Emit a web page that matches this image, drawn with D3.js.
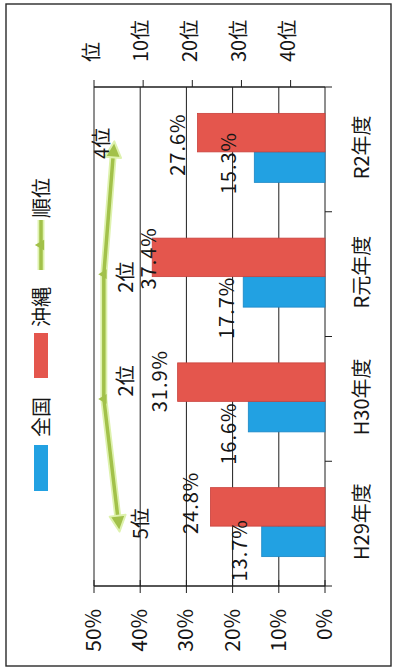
<!DOCTYPE html>
<html><head><meta charset="utf-8">
<script src="https://cdn.jsdelivr.net/npm/d3@7"></script>
<style>
html,body{margin:0;padding:0;background:#fff;}
svg{display:block;}
text{font-family:"Noto Sans CJK JP","Noto Sans",sans-serif;fill:#161616;}
</style></head><body>
<svg id="chart" width="393" height="669"></svg>
<script>
// Data: share by fiscal year (%), with Okinawa's national rank
const categories = ["H29年度", "H30年度", "R元年度", "R2年度"];
const seriesNames = ["全国", "沖縄"];
const national = [13.7, 16.6, 17.7, 15.3];
const okinawa = [24.8, 31.9, 37.4, 27.6];
const rankName = "順位";
const rank = [5, 2, 2, 4];
const valueTicks = [0, 10, 20, 30, 40, 50];
const rankTicks = [0, 10, 20, 30, 40];
const rankMax = 47;

// Styling / layout (chart is laid out landscape, then turned on its side)
const colors = { national: "#22a1e2", okinawa: "#e4564d", rank: "#a2c14a", rankGlow: "#def2ae" };
const barW = { national: 30.5, okinawa: 38.5 };
const nudgeNational = [[-9, -2], [-17, 0], [-16, 3], [4, -6]];
const nudgeOkinawa = [[4, 0], [1, 2], [-1, 16], [-12, 0]];
const nudgeRank = [[0, 0], [18, 0], [-3, 0], [6, -34]];

const W = 669, H = 393;
const M = { left: 83, right: 582, top: 94, bottom: 325 };

const svg = d3.select("#chart");
const g = svg.append("g").attr("transform", `translate(0,${W}) rotate(-90)`);

// frame
g.append("rect").attr("x", 3).attr("y", 6).attr("width", 662).attr("height", 385)
  .attr("fill", "none").attr("stroke", "#2a2a2a").attr("stroke-width", 1.4);

const x = d3.scaleBand().domain(categories).range([M.left, M.right]);
const y = d3.scaleLinear().domain([0, 50]).range([M.bottom, M.top]);
const yr = d3.scaleLinear().domain([0, rankMax]).range([M.top, M.bottom]);
const bw = x.bandwidth();

// gridlines
g.append("g").selectAll("line").data(valueTicks).join("line")
  .attr("x1", M.left).attr("x2", M.right)
  .attr("y1", d => y(d)).attr("y2", d => y(d))
  .attr("stroke", "#1e1e1e").attr("stroke-width", 1);

// left value axis
const ya = g.append("g");
ya.append("line").attr("x1", M.left).attr("x2", M.left).attr("y1", M.top).attr("y2", M.bottom)
  .attr("stroke", "#1e1e1e").attr("stroke-width", 1.3);
ya.selectAll("line.t").data(valueTicks).join("line").attr("class", "t")
  .attr("x1", M.left - 7).attr("x2", M.left + 6)
  .attr("y1", d => y(d)).attr("y2", d => y(d)).attr("stroke", "#1e1e1e");
ya.selectAll("text").data(valueTicks).join("text")
  .attr("x", 60).attr("y", d => y(d) - 2).attr("text-anchor", "end")
  .attr("dominant-baseline", "central").attr("font-size", 21)
  .text(d => d + "%");

// right rank axis (reversed)
const ra = g.append("g");
ra.append("line").attr("x1", M.right).attr("x2", M.right).attr("y1", M.top).attr("y2", M.bottom)
  .attr("stroke", "#1e1e1e").attr("stroke-width", 1.3);
ra.selectAll("line.t").data(rankTicks).join("line").attr("class", "t")
  .attr("x1", M.right).attr("x2", M.right + 7)
  .attr("y1", d => yr(d)).attr("y2", d => yr(d)).attr("stroke", "#1e1e1e");
ra.selectAll("text").data(rankTicks).join("text")
  .attr("x", 607).attr("y", d => yr(d) - 4).attr("text-anchor", "start")
  .attr("dominant-baseline", "central").attr("font-size", 20)
  .text(d => (d === 0 ? "" : d) + "位");

// category ticks and labels
g.append("g").selectAll("line").data(d3.range(categories.length + 1)).join("line")
  .attr("x1", i => M.left + i * bw).attr("x2", i => M.left + i * bw)
  .attr("y1", M.bottom).attr("y2", M.bottom + 7).attr("stroke", "#1e1e1e");
g.append("g").selectAll("text").data(categories).join("text")
  .attr("x", d => x(d) + bw / 2 + 2).attr("y", 360)
  .attr("text-anchor", "middle").attr("dominant-baseline", "central")
  .attr("font-size", 20).text(d => d);

// bars
const split = c => x(c) + bw / 2 - 2.5;
const bars = g.append("g");
bars.selectAll("rect.n").data(categories).join("rect").attr("class", "n")
  .attr("x", c => split(c) - barW.national).attr("width", barW.national)
  .attr("y", (c, i) => y(national[i])).attr("height", (c, i) => y(0) - y(national[i]))
  .attr("fill", colors.national).attr("stroke", "#1b86c4").attr("stroke-width", 0.8);
bars.selectAll("rect.o").data(categories).join("rect").attr("class", "o")
  .attr("x", c => split(c)).attr("width", barW.okinawa)
  .attr("y", (c, i) => y(okinawa[i])).attr("height", (c, i) => y(0) - y(okinawa[i]))
  .attr("fill", colors.okinawa).attr("stroke", "#c9423d").attr("stroke-width", 0.8);

// value labels
const labels = g.append("g").attr("font-size", 20).attr("letter-spacing", 1);
labels.selectAll("text.n").data(categories).join("text").attr("class", "n")
  .attr("x", (c, i) => split(c) - barW.national / 2 + nudgeNational[i][0])
  .attr("y", (c, i) => y(national[i]) - 21 + nudgeNational[i][1])
  .attr("text-anchor", "middle").attr("dominant-baseline", "central")
  .text((c, i) => national[i].toFixed(1) + "%");
labels.selectAll("text.o").data(categories).join("text").attr("class", "o")
  .attr("x", (c, i) => split(c) + barW.okinawa / 2 + nudgeOkinawa[i][0])
  .attr("y", (c, i) => y(okinawa[i]) - 21 + nudgeOkinawa[i][1])
  .attr("text-anchor", "middle").attr("dominant-baseline", "central")
  .text((c, i) => okinawa[i].toFixed(1) + "%");

// rank line with arrowheads at both ends
const pts = categories.map((c, i) => [x(c) + bw / 2, yr(rank[i])]);
const line = d3.line();
const rg = g.append("g");
rg.append("path").attr("d", line(pts)).attr("fill", "none")
  .attr("stroke", colors.rankGlow).attr("stroke-width", 7).attr("stroke-linejoin", "round");
rg.append("path").attr("d", line(pts)).attr("fill", "none")
  .attr("stroke", colors.rank).attr("stroke-width", 3.5).attr("stroke-linejoin", "round");
function arrow(from, to) {
  const a = Math.atan2(to[1] - from[1], to[0] - from[0]);
  const len = 16, half = 8, ext = 8;
  const tip = [to[0] + ext * Math.cos(a), to[1] + ext * Math.sin(a)];
  const base = [tip[0] - len * Math.cos(a), tip[1] - len * Math.sin(a)];
  const p1 = [base[0] + half * Math.sin(a), base[1] - half * Math.cos(a)];
  const p2 = [base[0] - half * Math.sin(a), base[1] + half * Math.cos(a)];
  return "M" + tip + "L" + p1 + "L" + p2 + "Z";
}
const n = pts.length;
[[pts[1], pts[0]], [pts[n - 2], pts[n - 1]]].forEach(([f, t]) => {
  rg.append("path").attr("d", arrow(f, t)).attr("fill", colors.rank)
    .attr("stroke", colors.rankGlow).attr("stroke-width", 2).attr("stroke-linejoin", "round");
});
rg.selectAll("path.m").data(pts.slice(1, n - 1)).join("path").attr("class", "m")
  .attr("transform", d => `translate(${d[0]},${d[1]})`)
  .attr("d", d3.symbol(d3.symbolTriangle, 40)).attr("fill", colors.rank);
rg.selectAll("text").data(pts).join("text")
  .attr("x", (d, i) => d[0] + nudgeRank[i][0]).attr("y", (d, i) => d[1] + 21 + nudgeRank[i][1])
  .attr("text-anchor", "middle").attr("dominant-baseline", "central").attr("font-size", 20)
  .text((d, i) => rank[i] + "位");

// legend
const lg = g.append("g");
lg.append("rect").attr("x", 178).attr("y", 34).attr("width", 46).attr("height", 14).attr("fill", colors.national);
lg.append("text").attr("x", 232).attr("y", 40).attr("dominant-baseline", "central").attr("font-size", 20).text(seriesNames[0]);
lg.append("rect").attr("x", 291).attr("y", 34).attr("width", 45).attr("height", 14).attr("fill", colors.okinawa);
lg.append("text").attr("x", 342).attr("y", 40).attr("dominant-baseline", "central").attr("font-size", 20).text(seriesNames[1]);
lg.append("line").attr("x1", 399).attr("x2", 449).attr("y1", 41).attr("y2", 41)
  .attr("stroke", colors.rankGlow).attr("stroke-width", 7);
lg.append("line").attr("x1", 399).attr("x2", 449).attr("y1", 41).attr("y2", 41)
  .attr("stroke", colors.rank).attr("stroke-width", 3.5);
lg.append("path").attr("transform", "translate(424,41)").attr("d", d3.symbol(d3.symbolTriangle, 50)).attr("fill", colors.rank);
lg.append("text").attr("x", 451).attr("y", 40).attr("dominant-baseline", "central").attr("font-size", 20).text(rankName);
</script>
</body></html>
